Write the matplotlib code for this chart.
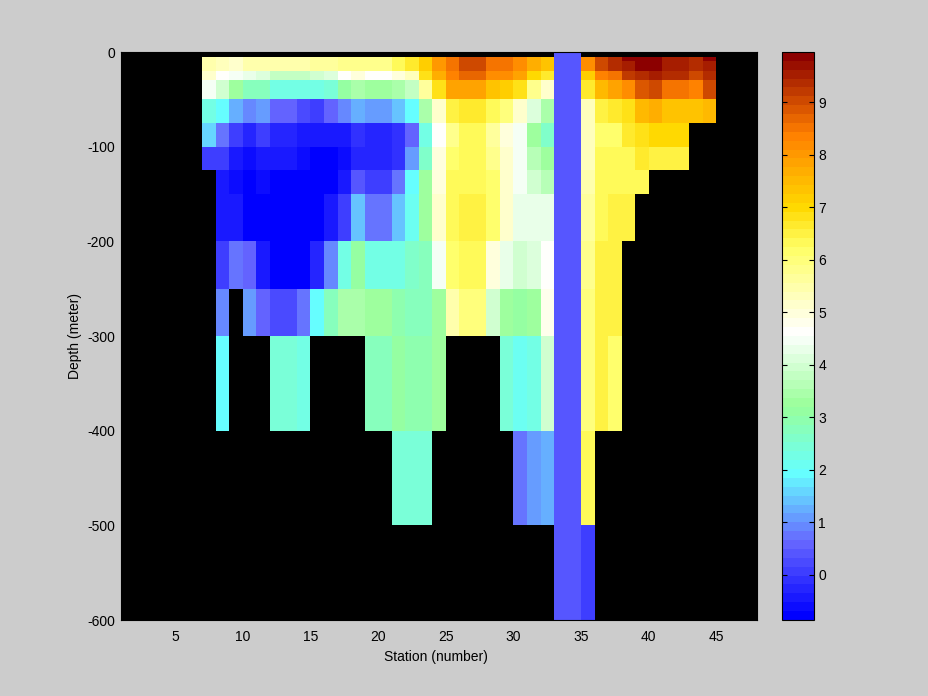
import numpy as np
import matplotlib
matplotlib.use('Agg')
import matplotlib.pyplot as plt
from matplotlib.colors import LinearSegmentedColormap

plt.rcParams['font.family'] = ['Liberation Sans', 'DejaVu Sans']
plt.rcParams['axes.unicode_minus'] = False
nan = np.nan

# cell edges
station_edges = list(range(7, 46))
depth_edges = [0, 5, 10, 20, 30, 50, 75, 100, 125, 150, 200, 250, 300, 400, 500, 600]

# one row per depth layer, stations 7 to 44
row_000 = [nan]*26 + [0.4, 0.4] + [nan]*10
row_005 = [5.5, 5.3, 5.2, 5.5, 5.5, 5.5, 5.5, 5.4, 5.7, 5.6, 5.9, 5.9, 5.8, 5.8, 6.4, 6.7, 7.1, 8.0, 8.6, 9.0,
           9.0, 8.5, 8.45, 8.2, 7.6, 7.3, 0.4, 0.4, 8.2, 9.0, 9.3, 9.9, 9.9, 9.9, 9.6, 9.6, 9.3, 9.9]
row_010 = [5.5, 5.3, 5.2, 5.5, 5.5, 5.5, 5.5, 5.4, 5.7, 5.6, 5.9, 5.9, 5.8, 5.8, 6.4, 6.7, 7.1, 8.0, 8.6, 9.0,
           9.0, 8.5, 8.45, 8.2, 7.6, 7.3, 0.4, 0.4, 8.2, 9.0, 9.3, 9.6, 9.9, 9.9, 9.6, 9.6, 9.3, 9.6]
row_020 = [5.2, 4.7, 4.4, 4.3, 4.2, 3.8, 3.8, 3.8, 3.9, 4.2, 4.7, 5.0, 4.6, 4.6, 5.0, 5.3, 6.8, 7.6, 8.4, 8.7,
           8.7, 8.2, 8.2, 7.9, 7.0, 6.6, 0.4, 0.4, 7.1, 8.4, 8.6, 9.2, 9.45, 9.6, 9.3, 9.3, 9.0, 9.45]
row_030 = [4.5, 4.0, 3.3, 2.8, 2.8, 2.2, 2.2, 2.2, 2.2, 2.5, 3.1, 3.5, 3.2, 3.2, 3.5, 3.8, 5.6, 6.8, 7.8, 7.9,
           7.9, 7.4, 7.2, 6.8, 5.9, 5.1, 0.4, 0.4, 6.6, 7.5, 7.8, 8.25, 8.8, 9.0, 8.6, 8.6, 8.4, 9.0]
row_050 = [2.3, 2.0, 1.3, 0.9, 1.1, 0.5, 0.5, 0.3, 0.1, 0.5, 0.9, 1.3, 1.1, 1.1, 1.5, 1.9, 3.4, 5.2, 6.5, 6.7,
           6.7, 6.3, 6.0, 5.2, 4.2, 3.4, 0.4, 0.4, 5.3, 6.5, 6.7, 6.9, 7.5, 7.6, 7.3, 7.3, 7.3, 7.5]
row_075 = [1.6, 0.8, 0.1, -0.3, 0.0, -0.3, -0.3, -0.4, -0.4, -0.5, -0.4, -0.1, -0.2, -0.2, -0.1, 0.5, 2.3, 4.7, 5.8, 6.3,
           6.3, 5.7, 5.0, 4.5, 3.3, 2.6, 0.4, 0.4, 5.3, 6.2, 6.2, 6.6, 6.8, 7.0, 7.0, 7.0, nan, nan]
row_100 = [0.0, 0.0, -0.5, -0.6, -0.4, -0.5, -0.5, -0.6, -0.75, -0.75, -0.6, -0.3, -0.3, -0.3, -0.1, 1.1, 2.6, 4.9, 6.2, 6.4,
           6.4, 5.9, 5.2, 4.5, 3.7, 3.3, 0.4, 0.4, 5.3, 6.3, 6.4, 6.4, 6.6, 6.5, 6.5, 6.5, nan, nan]
row_125 = [nan, -0.4, -0.6, -0.75, -0.6, -0.8, -0.8, -0.8, -0.8, -0.8, -0.5, 0.4, 0.0, 0.0, 0.7, 1.9, 3.2, 5.0, 6.4, 6.4,
           6.4, 6.1, 5.2, 4.5, 4.0, 3.6, 0.4, 0.4, 5.4, 6.3, 6.4, 6.4, 6.4, nan, nan, nan, nan, nan]
row_150 = [nan, -0.5, -0.5, -0.7, -0.7, -0.8, -0.8, -0.8, -0.8, -0.5, 0.1, 1.5, 0.8, 0.8, 1.5, 2.1, 3.2, 5.2, 6.4, 6.5,
           6.5, 6.1, 5.1, 4.3, 4.3, 4.3, 0.4, 0.4, 5.6, 6.3, 6.5, 6.5, nan, nan, nan, nan, nan, nan]
row_200 = [nan, 0.0, 0.8, 0.5, -0.4, -0.75, -0.75, -0.75, -0.2, 0.9, 2.3, 3.1, 2.2, 2.2, 2.3, 2.6, 2.8, 4.4, 6.1, 6.4,
           6.4, 5.0, 4.3, 3.9, 4.1, 4.7, 0.4, 0.4, 5.8, 6.5, 6.5, nan, nan, nan, nan, nan, nan, nan]
row_250 = [nan, 0.9, nan, 1.0, 0.55, 0.2, 0.2, 0.7, 2.0, 2.8, 3.4, 3.4, 3.2, 3.2, 3.0, 2.8, 2.7, 3.3, 5.4, 6.0,
           6.0, 4.0, 3.2, 3.1, 3.3, 4.8, 0.4, 0.4, 6.0, 6.5, 6.5, nan, nan, nan, nan, nan, nan, nan]
row_300 = [nan, 2.0, nan, nan, nan, 2.4, 2.4, 2.2, nan, nan, nan, nan, 2.8, 2.8, 3.1, 3.0, 3.0, 3.2, nan, nan,
           nan, nan, 2.4, 2.1, 2.3, 4.0, 0.4, 0.4, 6.0, 6.5, 6.1, nan, nan, nan, nan, nan, nan, nan]
row_400 = [nan]*14 + [2.5, 2.5, 2.5] + [nan]*6 + [0.8, 1.0, 1.2, 0.4, 0.4, 6.4] + [nan]*9
row_500 = [nan]*26 + [0.4, 0.4, 0.15] + [nan]*9

rows = [row_000, row_005, row_010, row_020, row_030, row_050, row_075, row_100, row_125,
        row_150, row_200, row_250, row_300, row_400, row_500]
temp = np.ma.masked_invalid(np.array(rows))

# colormap anchors
vmin, vmax = -0.86, 9.96
anchors = [(-0.86, (0, 0, 1)), (0.56, (0.4, 0.4, 1)), (1.9, (0.4, 1, 1)), (3.2, (0.6, 1, 0.6)),
           (4.6, (1, 1, 1)), (6.25, (1, 1, 0.4)), (7.05, (1, 0.85, 0)), (8.45, (1, 0.5, 0)), (9.96, (0.55, 0, 0))]
cmap = LinearSegmentedColormap.from_list(
    'ts', [((v - vmin) / (vmax - vmin), c) for v, c in anchors], N=64)

W, H = 928, 696
fig = plt.figure(figsize=(9.281, 6.961), dpi=100, facecolor='#cccccc')
ax = fig.add_axes([121 / W, 1 - 620 / H, (757 - 121) / W, (620 - 52) / H], facecolor='k')
m = ax.pcolormesh(station_edges, -np.array(depth_edges), temp, cmap=cmap, vmin=vmin, vmax=vmax)
ax.set_xlim(1, 48)
ax.set_ylim(-600, 0)
ax.set_xticks(range(5, 46, 5))
ax.set_yticks(range(-600, 1, 100))
ax.tick_params(length=0, labelsize=10)
ax.tick_params(axis='x', pad=7)
ax.tick_params(axis='y', pad=4.5)
ax.set_xlabel('Station (number)', fontsize=10)
ax.xaxis.set_label_coords(0.4945, -0.052)
ax.set_ylabel('Depth (meter)', fontsize=10)
ax.yaxis.set_label_coords(-0.0613, 0.5)
for s in ax.spines.values():
    s.set_linewidth(0.8)

cax = fig.add_axes([782 / W, 1 - 620 / H, (814 - 782) / W, (620 - 52) / H])
cb = fig.colorbar(m, cax=cax)
cb.set_ticks(range(0, 10))
cax.tick_params(direction='in', length=3.6, width=0.8, labelsize=10, left=True, right=True, pad=3)
cb.outline.set_linewidth(0.8)

fig.savefig('out.png', dpi=100, facecolor=fig.get_facecolor())
